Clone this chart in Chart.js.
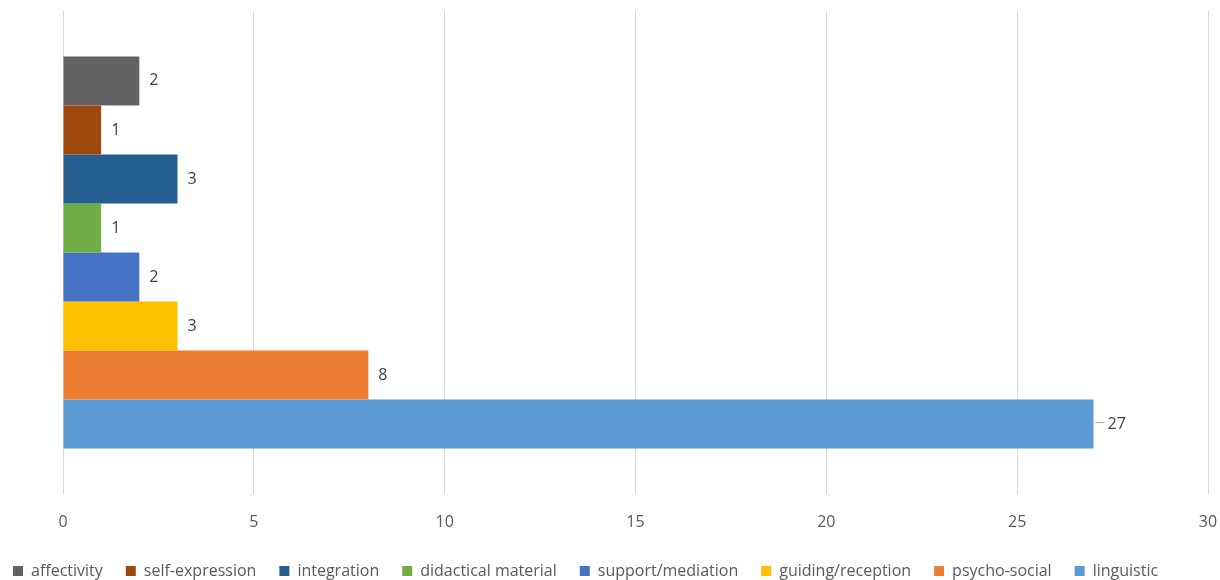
<!DOCTYPE html>
<html><head><meta charset="utf-8">
<script src="https://cdn.jsdelivr.net/npm/chart.js@4/dist/chart.umd.min.js"></script>
<style>html,body{margin:0;padding:0;background:#fff}#wrap{width:1220px;height:580px}</style>
</head><body><div id="wrap"><canvas id="c" width="1220" height="580"></canvas></div>
<script>
const categories = [""];
const seriesNames = ["affectivity","self-expression","integration","didactical material","support/mediation","guiding/reception","psycho-social","linguistic"];
const seriesValues = [2,1,3,1,2,3,8,27];
const seriesColors = ["#636363","#9E480E","#255E91","#70AD47","#4472C4","#FFC000","#ED7D31","#5B9BD5"];
const xTicks = [0,5,10,15,20,25,30];

const FONT = "'Open Sans', sans-serif";

const labelPlugin = {
  id: 'barLabels',
  afterDatasetsDraw(chart) {
    const ctx = chart.ctx;
    ctx.save();
    ctx.font = "16px " + FONT;
    ctx.fillStyle = "#404040";
    ctx.textBaseline = "middle";
    ctx.textAlign = "left";
    chart.data.datasets.forEach((ds, i) => {
      const meta = chart.getDatasetMeta(i);
      meta.data.forEach((bar, j) => {
        const v = ds.data[j];
        if (ds.leader) {
          ctx.strokeStyle = "#A6A6A6";
          ctx.lineWidth = 1;
          ctx.beginPath();
          ctx.moveTo(bar.x + 2, bar.y - 1.5);
          ctx.lineTo(bar.x + 11, bar.y - 1.5);
          ctx.stroke();
          ctx.fillText(String(v), bar.x + 14, bar.y);
        } else {
          ctx.fillText(String(v), bar.x + 10, bar.y);
        }
      });
    });
    ctx.restore();
  }
};

const maxVal = Math.max(...seriesValues);
new Chart(document.getElementById('c'), {
  type: 'bar',
  data: {
    labels: categories,
    datasets: seriesNames.map((n, i) => ({
      label: n,
      data: [seriesValues[i]],
      backgroundColor: seriesColors[i],
      borderWidth: 0,
      barPercentage: 1,
      categoryPercentage: 0.812,
      leader: seriesValues[i] === maxVal
    }))
  },
  options: {
    indexAxis: 'y',
    responsive: false,
    animation: false,
    layout: { padding: { left: -10, right: 12, top: 11, bottom: 0 } },
    scales: {
      y: {
        display: true,
        grid: { display: false },
        border: { display: false },
        ticks: { display: false },
        afterFit(axis) { axis.width = 73; }
      },
      x: {
        min: 0, max: 30,
        afterBuildTicks(axis) { axis.ticks = xTicks.map(v => ({ value: v })); },
        afterFit(axis) { axis.paddingRight = 0; axis.height = 46; },
        grid: { color: "#D9D9D9", drawTicks: false },
        border: { display: false },
        ticks: { color: "#595959", font: { family: FONT, size: 16 }, padding: 19 }
      }
    },
    plugins: {
      legend: {
        position: 'bottom',
        align: 'start',
        maxHeight: 40,
        labels: {
          boxWidth: 10, boxHeight: 10, padding: 23,
          color: "#595959",
          font: { family: FONT, size: 16 }
        }
      },
      tooltip: { enabled: false }
    }
  },
  plugins: [labelPlugin]
});
</script>
</body></html>
